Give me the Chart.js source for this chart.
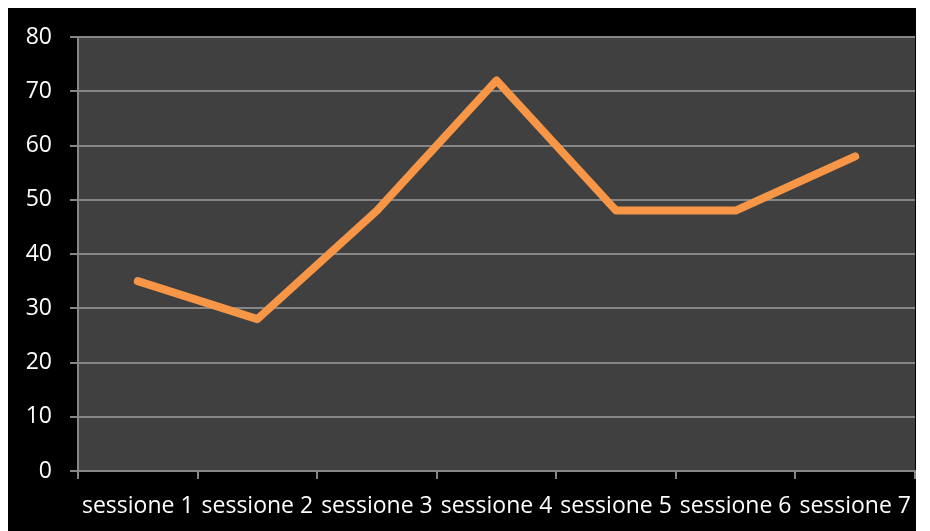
<!DOCTYPE html>
<html>
<head>
<meta charset="utf-8">
<script src="https://cdn.jsdelivr.net/npm/chart.js@4"></script>
<style>
  html, body { margin: 0; padding: 0; background: #ffffff; }
  #wrap { position: absolute; left: 8px; top: 8px; width: 908px; height: 523px; background: #000000; }
</style>
</head>
<body>
<div id="wrap"><canvas id="chart" width="908" height="523"></canvas></div>
<script>
const categories = ['sessione 1', 'sessione 2', 'sessione 3', 'sessione 4', 'sessione 5', 'sessione 6', 'sessione 7'];
const values = [35, 28, 48, 72, 48, 48, 58];
const yTicks = [0, 10, 20, 30, 40, 50, 60, 70, 80];

const LINE_COLOR = '#f79646';
const GRID_COLOR = '#868686';
const PLOT_BG = '#404040';
const FONT = { family: '"Open Sans", Lato, sans-serif', size: 23 };

// fills the plot area before datasets are drawn
const plotBackground = {
  id: 'plotBackground',
  beforeDraw(chart) {
    const { ctx, chartArea } = chart;
    ctx.save();
    ctx.fillStyle = PLOT_BG;
    ctx.fillRect(chartArea.left, chartArea.top, chartArea.right - chartArea.left, chartArea.bottom - chartArea.top);
    ctx.restore();
  }
};

new Chart(document.getElementById('chart'), {
  type: 'line',
  data: {
    labels: categories,
    datasets: [{
      data: values,
      borderColor: LINE_COLOR,
      borderWidth: 8,
      borderJoinStyle: 'round',
      borderCapStyle: 'round',
      pointRadius: 0,
      tension: 0
    }]
  },
  options: {
    responsive: false,
    animation: false,
    layout: { padding: { left: 8, right: 1, top: 29, bottom: 0 } },
    plugins: { legend: { display: false }, tooltip: { enabled: false } },
    scales: {
      x: {
        offset: true,
        grid: { display: true, drawOnChartArea: false, drawTicks: true, tickLength: 8, color: GRID_COLOR, lineWidth: 2, offset: true },
        border: { color: GRID_COLOR, width: 2 },
        ticks: { color: '#ffffff', font: FONT, padding: 14, maxRotation: 0, autoSkip: false },
        afterFit(scale) {
          scale.height = 60;
          scale.paddingLeft = 0;
          scale.paddingRight = 0;
        }
      },
      y: {
        min: 0,
        max: 80,
        afterBuildTicks(scale) { scale.ticks = yTicks.map(v => ({ value: v })); },
        grid: { color: GRID_COLOR, lineWidth: 2, tickLength: 8 },
        border: { color: GRID_COLOR, width: 2 },
        ticks: { color: '#ffffff', font: FONT, padding: 18 },
        afterFit(scale) {
          scale.width = 62;
          scale.paddingTop = 0;
          scale.paddingBottom = 0;
        }
      }
    }
  },
  plugins: [plotBackground]
});
</script>
</body>
</html>
